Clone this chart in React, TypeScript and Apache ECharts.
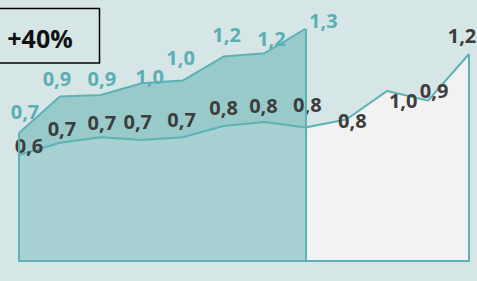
import React, { useEffect, useRef } from "react";
import * as echarts from "echarts";

const categories = ["1", "2", "3", "4", "5", "6", "7", "8", "9", "10", "11", "12"];
// upper (current) series, first 8 periods
const currentValues = [0.724, 0.931, 0.94, 1.007, 1.022, 1.158, 1.177, 1.315];
// lower (previous) series, all 12 periods
const previousValues = [0.599, 0.669, 0.7, 0.685, 0.7, 0.764, 0.787, 0.755, 0.801, 0.963, 0.908, 1.173];
const headline = "+40%";

// label placement offsets (px) relative to each point
const currentLabelOffsets = [[6, -22], [-3, -18], [1, -16], [8, -7], [-2, -23], [3, -22], [7, -15], [18, -8]];
const previousLabelOffsets = [[10, -10], [2, -14], [1, -15], [-4, -18], [-1, -18], [0, -18], [-1, -16], [2, -23], [6, 1], [16, 10], [6, -10], [-7, -18]];

const TEAL = "#5eb2b5";
const TEAL_TEXT = "#5aafb2";
const DARK_TEXT = "#3d3d3d";

const fmt = (v: number) => v.toFixed(1).replace(".", ",");

const labelBase = {
  show: true,
  position: "inside",
  fontFamily: "Open Sans",
  fontWeight: "bold",
  fontSize: 20,
  align: "center",
  verticalAlign: "middle",
  formatter: (p: any) => fmt(p.value),
};

export default function App() {
  const ref = useRef<HTMLDivElement>(null);
  useEffect(() => {
    if (!ref.current) return;
    const chart = echarts.init(ref.current, null, { renderer: "svg" });
    const nLeft = currentValues.length;

    const topData = currentValues.map((v, i) => ({
      value: v,
      label: { ...labelBase, color: TEAL_TEXT, offset: currentLabelOffsets[i] },
    }));
    const lowLeftData = previousValues.slice(0, nLeft).map((v, i) => ({
      value: v,
      label: { ...labelBase, color: DARK_TEXT, offset: previousLabelOffsets[i] },
    }));
    const lowRightData = previousValues.map((v, i) => {
      if (i < nLeft - 1) return null;
      if (i === nLeft - 1) return { value: v, label: { show: false } };
      return { value: v, label: { ...labelBase, color: DARK_TEXT, offset: previousLabelOffsets[i] } };
    });

    const common = {
      type: "line",
      symbol: "circle",
      symbolSize: 1,
      itemStyle: { color: "rgba(0,0,0,0)" },
      lineStyle: { color: TEAL, width: 2 },
      silent: true,
    };

    const edge = (cat: string, v: number) => [{ coord: [cat, 0] }, { coord: [cat, v] }];

    chart.setOption({
      animation: false,
      backgroundColor: "#d6e5e6",
      grid: { left: 19, right: 8, top: 14, bottom: 20.5 },
      xAxis: {
        type: "category",
        data: categories,
        boundaryGap: false,
        z: 10,
        axisLine: { show: true, lineStyle: { color: TEAL, width: 2 } },
        axisTick: { show: false },
        axisLabel: { show: false },
        splitLine: { show: false },
      },
      yAxis: {
        type: "value",
        min: 0,
        max: 1.4,
        show: false,
        splitLine: { show: false },
      },
      series: [
        {
          ...common,
          data: topData,
          areaStyle: { color: "#98caca", opacity: 1 },
        },
        {
          ...common,
          data: lowLeftData,
          areaStyle: { color: "#a8d1d3", opacity: 1 },
        },
        {
          ...common,
          data: lowRightData,
          areaStyle: { color: "#f2f2f2", opacity: 1 },
          markLine: {
            silent: true,
            symbol: ["none", "none"],
            label: { show: false },
            lineStyle: { color: TEAL, width: 2, type: "solid" },
            data: [
              edge(categories[0], currentValues[0]),
              edge(categories[nLeft - 1], currentValues[nLeft - 1]),
              edge(categories[categories.length - 1], previousValues[previousValues.length - 1]),
            ],
          },
        },
      ],
      graphic: [
        {
          type: "rect",
          z: 100,
          shape: { x: -5, y: 8.5, width: 104.5, height: 54.5 },
          style: { fill: "none", stroke: "#000", lineWidth: 1.5 },
        },
        {
          type: "text",
          z: 101,
          x: 40,
          y: 38,
          style: {
            text: headline,
            align: "center",
            verticalAlign: "middle",
            fontFamily: "Open Sans",
            fontWeight: "bold",
            fontSize: 25,
            fill: "#111",
          },
        },
      ],
    });
    return () => chart.dispose();
  }, []);
  return <div ref={ref} style={{ position: "fixed", left: 0, top: 0, width: 477, height: 281 }} />;
}
